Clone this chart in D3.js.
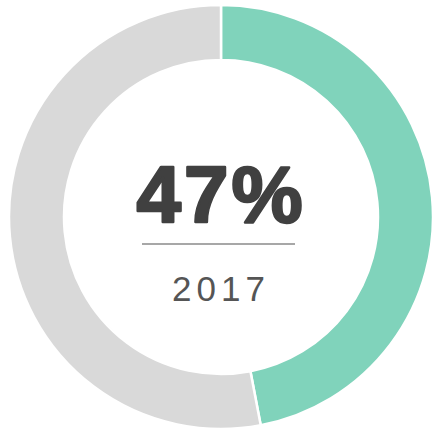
<!DOCTYPE html>
<meta charset="utf-8">
<style>
  body { margin: 0; background: #fff; }
  text { font-family: "Liberation Sans", Arial, sans-serif; }
</style>
<svg id="chart" width="434" height="432"></svg>
<script src="https://d3js.org/d3.v7.min.js"></script>
<script>
var labels = ['2017', 'rest']
var values = [47, 53]
var colors = ['#80d3bb', '#d9d9d9']
var year = '2017'

var width = 434,
    height = 432,
    cx = 221,
    cy = 217,
    outer = 212,
    inner = 157

var svg = d3.select('#chart')
var g = svg.append('g').attr('transform', `translate(${cx}, ${cy})`)

var pie = d3.pie().sort(null).value((d) => d)
var arc = d3.arc().innerRadius(inner).outerRadius(outer)

g.selectAll('path')
  .data(pie(values))
  .enter()
  .append('path')
  .attr('d', arc)
  .attr('fill', (d, i) => colors[i])
  .attr('stroke', '#fff')
  .attr('stroke-width', 2.5)

// big number, stroked a little to get the heavy look
g.append('text')
  .attr('x', 0)
  .attr('y', 5)
  .attr('text-anchor', 'middle')
  .attr('font-size', 80)
  .attr('font-weight', 'bold')
  .attr('letter-spacing', 3)
  .attr('fill', '#404040')
  .attr('stroke', '#404040')
  .attr('stroke-width', 2.5)
  .attr('stroke-linejoin', 'round')
  .text(values[0] + '%')

g.append('line')
  .attr('x1', -79).attr('x2', 74)
  .attr('y1', 27).attr('y2', 27)
  .attr('stroke', '#8a8a8a')
  .attr('stroke-width', 1.5)

g.append('text')
  .attr('x', 0)
  .attr('y', 84)
  .attr('text-anchor', 'middle')
  .attr('font-size', 35)
  .attr('letter-spacing', 5)
  .attr('fill', '#555')
  .text(year)
</script>
